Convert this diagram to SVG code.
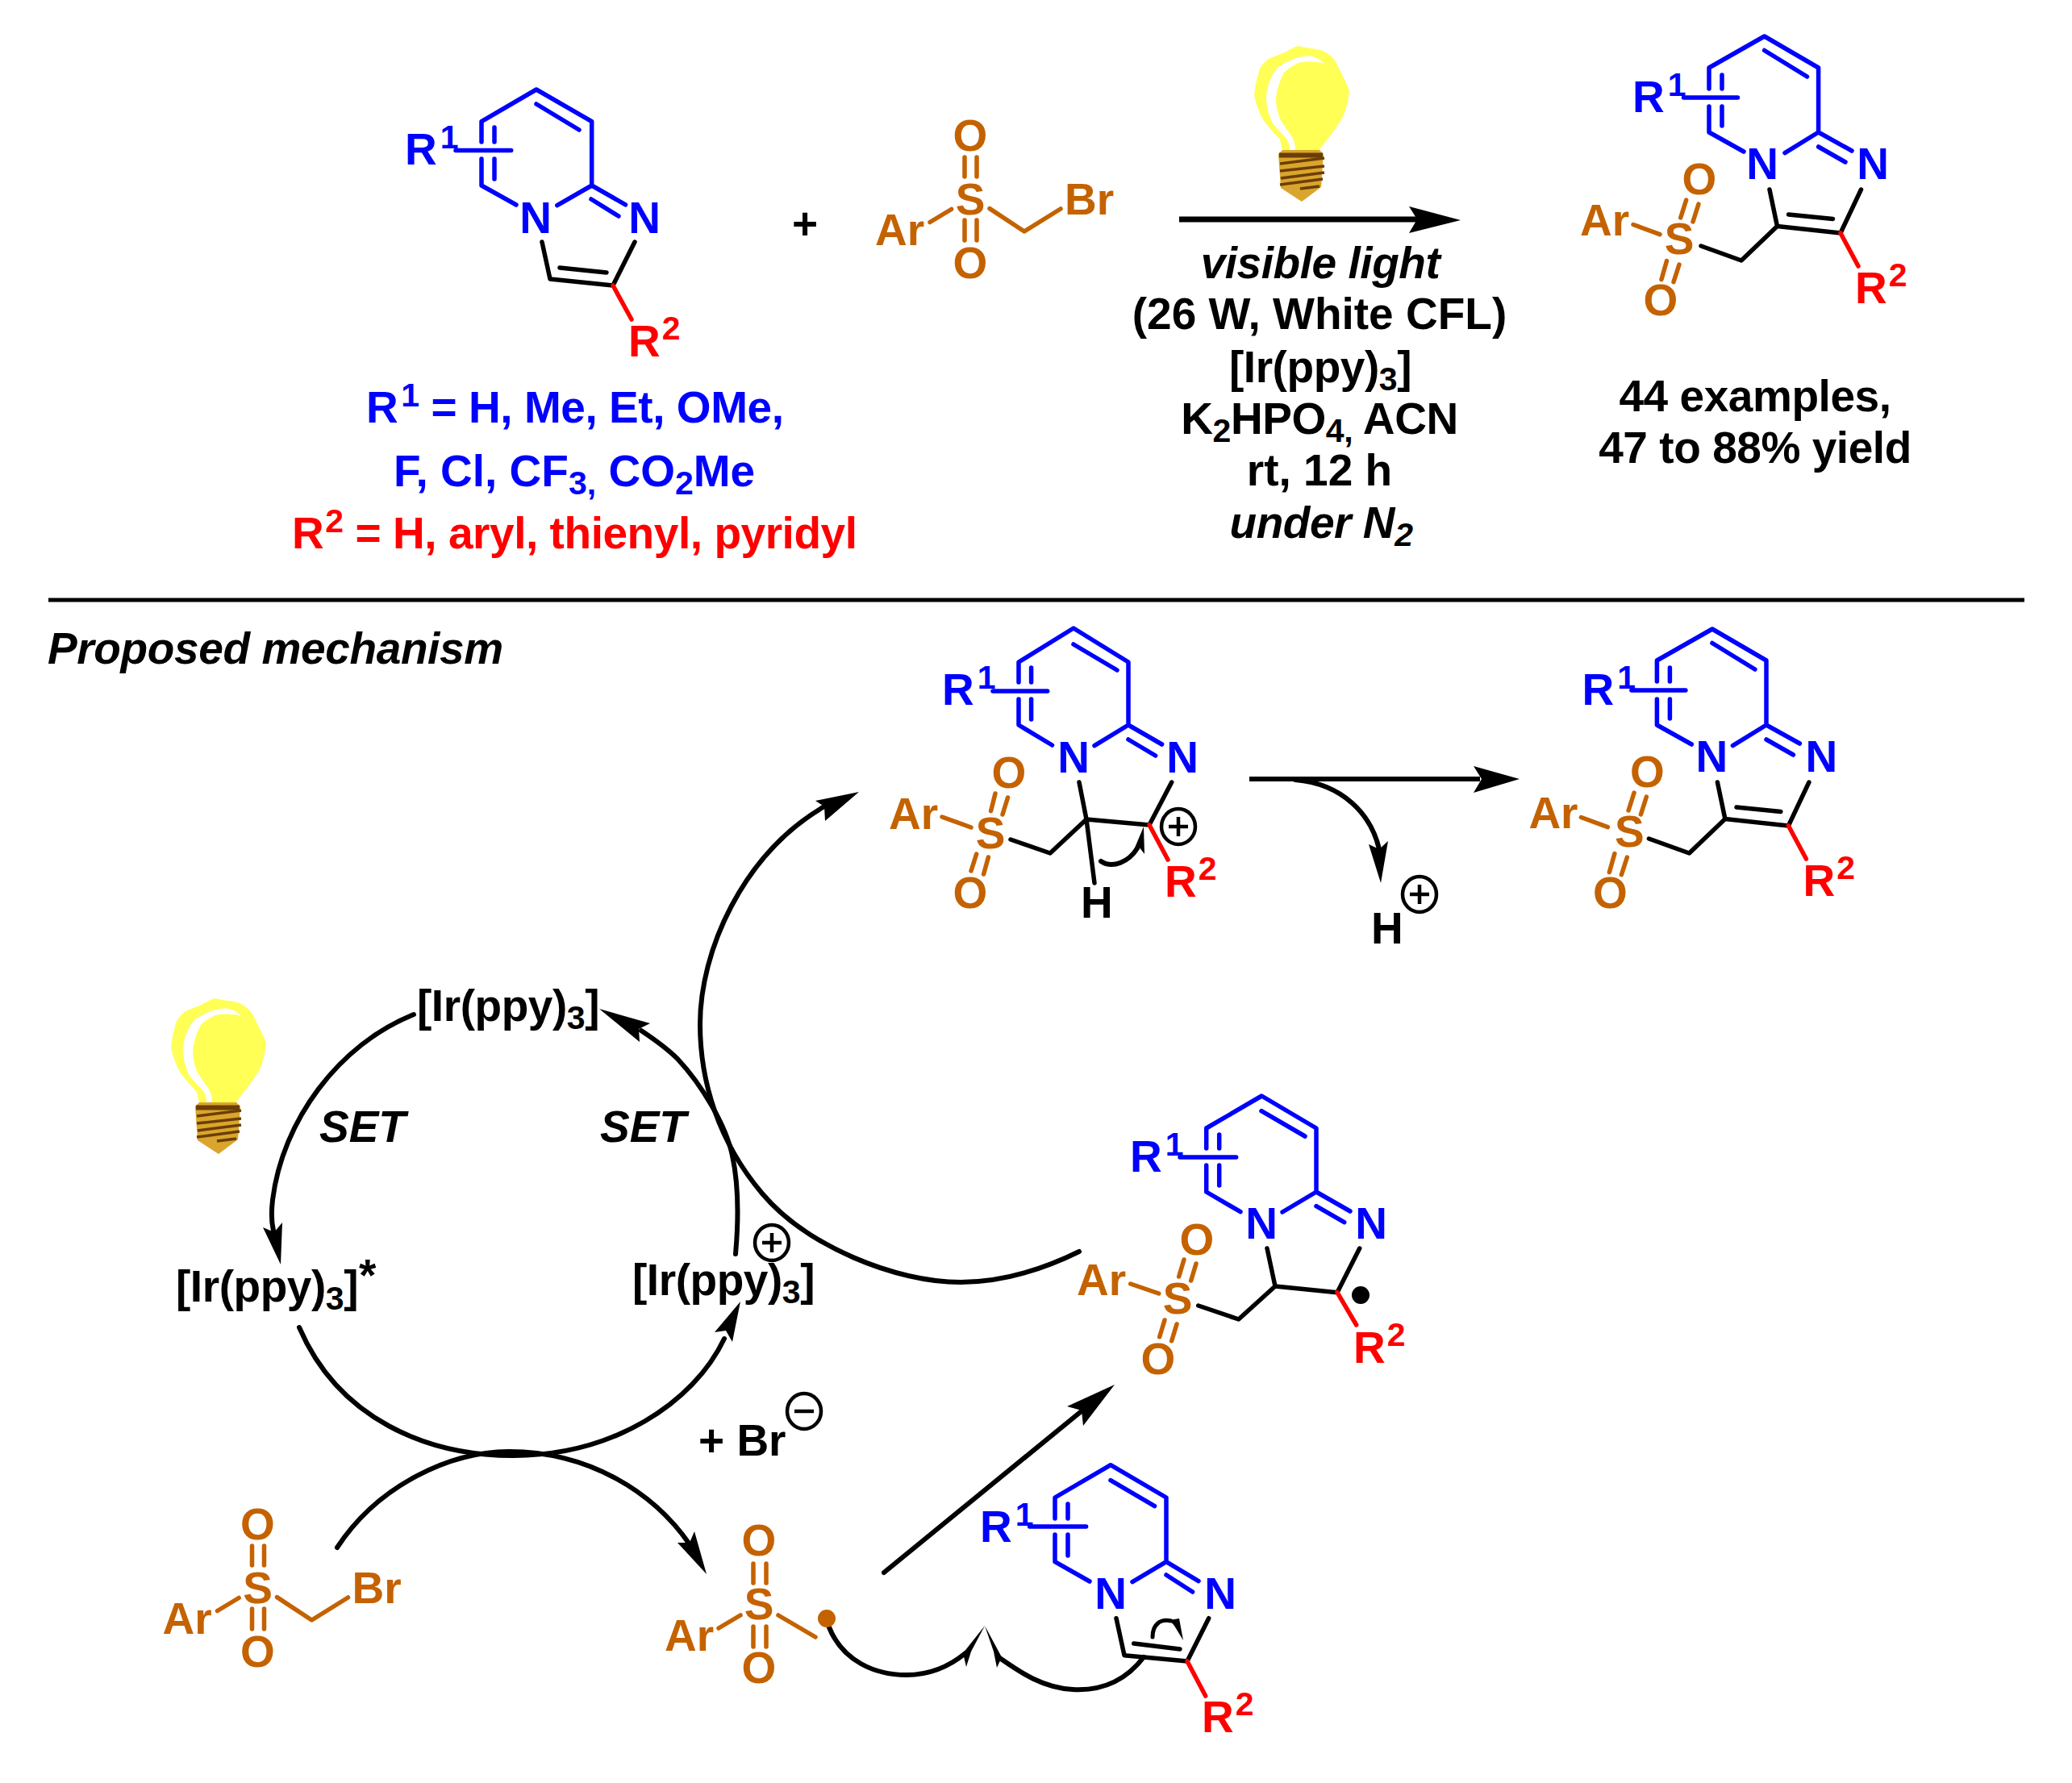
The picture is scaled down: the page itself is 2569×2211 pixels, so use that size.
<svg xmlns="http://www.w3.org/2000/svg" width="2569" height="2211" viewBox="0 0 2569 2211">
<style>
.b{fill:none;stroke-width:5.5;stroke-linecap:round;stroke-linejoin:round}
.bl{stroke:#0000FF}.rd{stroke:#FF0000}.bk{stroke:#000}.br{stroke:#C46200}
.c{fill:none;stroke:#000;stroke-width:6;stroke-linecap:round}
.cb{fill:none;stroke:#000;stroke-width:4.5}
text{font-family:"Liberation Sans",Arial,sans-serif;font-weight:700;font-size:55px}
.fb{fill:#0000FF}.fr{fill:#FF0000}.fo{fill:#C46200}.fk{fill:#000}
.i{font-style:italic}.m{text-anchor:middle}
.s{font-size:41px}
.n{letter-spacing:-.45px}
.ah{fill:#000}
</style>
<defs>
<g id="bulb">
<path fill="#FFFF55" d="M1610,57C1620,60 1632,60 1640,63C1648,67 1652,71 1655,75C1662,88 1668,100 1673,112C1672,122 1670,132 1667,140C1664,148 1658,156 1653,163C1648,170 1644,175 1640,180L1636,186H1590L1587,173C1580,165 1573,158 1567,150C1561,140 1557,128 1555,118C1556,106 1559,95 1562,85C1565,80 1569,76 1573,73C1580,70 1587,67 1593,65C1600,61 1605,58 1610,57Z"/>
<path fill="#FFF" d="M1642,79C1637,74 1633,71 1627,70C1620,69 1614,70 1607,72C1598,75 1591,79 1585,83C1576,92 1571,106 1570,120C1570,132 1573,143 1578,153C1583,160 1590,166 1595,172C1598,177 1599,181 1599,186H1606C1606,180 1605,175 1602,170C1597,162 1591,155 1587,147C1584,139 1582,131 1582,123C1583,111 1587,99 1592,90C1597,85 1603,81 1610,78C1620,76 1632,76 1642,79Z"/>
<path fill="#DAA52C" d="M1590,186H1636L1641,191L1638,232L1614,250L1588,233L1585,191Z"/>
<path fill="none" stroke="#6B3E05" stroke-width="6" d="M1586,192.500H1640"/>
<path fill="none" stroke="#6B3E05" stroke-width="3.500" d="M1587,203L1642,196M1587,212L1642,206M1588,221L1642,214M1587,229L1640,222M1612,234L1636,231"/>
</g>
</defs>
<rect width="2569" height="2211" fill="#FFF"/>

<g id="connectors">
<path class="cb" style="stroke-width:7" d="M1462,272H1758"/><polygon class="ah" points="1811,273 1747,256 1757,272 1747,289"/>
<path class="b bk" style="stroke-width:5;stroke-linecap:butt" d="M60,744H2510"/>
<path class="cb" style="stroke-width:6" d="M1549,966H1835"/><polygon class="ah" points="1884,966 1827,950 1837,966 1827,983"/>
<path class="c" d="M1606,967C1665,972 1700,1010 1710,1053"/><polygon class="ah" points="1712,1095 1697,1047 1710,1053 1721,1043"/>
<path class="c" d="M513,1258C420,1295 350,1390 338,1488C336,1505 337,1520 340,1530"/><polygon class="ah" points="348,1568 326,1522 340,1528 350,1516"/>
<path class="c" d="M912,1555C916,1510 916,1470 908,1433C900,1395 870,1345 840,1313C825,1298 810,1288 795,1278"/><polygon class="ah" points="743,1251 806,1269 792,1276 793,1292"/>
<path class="c" d="M1338,1552C1285,1578 1235,1590 1191,1590C1110,1590 1000,1545 945,1480C890,1415 868,1340 868,1270C868,1180 920,1060 1022,1000"/><polygon class="ah" points="1065,982 1011,993 1022,1000 1023,1018"/>
<path class="c" d="M371,1646C420,1760 530,1805 636,1805C760,1805 860,1740 898,1660"/><polygon class="ah" points="918,1614 886,1652 900,1650 908,1664"/>
<path class="c" d="M418,1919C470,1840 560,1800 631,1800C730,1800 810,1850 855,1915"/><polygon class="ah" points="876,1952 840,1913 855,1913 861,1899"/>
<path class="c" d="M1096,1950L1342,1749"/><polygon class="ah" points="1382,1717 1323,1744 1341,1749 1343,1768"/>
<path class="c" d="M1028,2018C1045,2060 1085,2077 1124,2077C1155,2077 1180,2064 1197,2050"/><polygon class="ah" points="1221,2016 1194,2050 1198,2067 1204,2048"/>
<path class="c" d="M1418,2055C1395,2085 1365,2097 1330,2095C1290,2093 1260,2070 1238,2055"/><polygon class="ah" points="1221,2016 1232,2048 1236,2068 1242,2055"/>
<path class="c" d="M1365,1068C1380,1078 1400,1068 1410,1052"/><polygon class="ah" points="1418,1025 1405,1056 1412,1050 1419,1059"/>
<path class="c" style="stroke-width:5" d="M1429,2030C1429,2015 1438,2007 1452,2010"/><polygon class="ah" points="1462,2007 1467,2034 1456,2016 1450,2009"/>
</g>

<g id="bulb-top"><use href="#bulb"/></g>
<g id="bulb-cycle"><use href="#bulb" transform="translate(-1343,1181)"/></g>

<g id="substrate">
<path class="b bl" d="M640,254L597,230V197M597,176V150.600L665,111L733.700,150.600V230L690.800,254.700M733.700,230L775.500,253.800M733,247L767,268M665,129L718,161M613,158V176M613,197V222M565,186.600H633.700"/>
<path class="b bk" d="M672,300L682,346L760,354L787,300M694,332L752,338"/>
<path class="b rd" d="M760,354L783,396"/>
<text class="fb" x="502" y="204">R<tspan class="s" dx="4" dy="-20">1</tspan></text>
<text class="fb m" x="664" y="289">N</text><text class="fb m" x="799" y="289">N</text>
<text class="fr" x="779" y="442">R<tspan class="s" dx="2" dy="-21">2</tspan></text>
</g>
<g id="scope-text">
<text class="fb n" x="454" y="524">R<tspan class="s" dx="4" dy="-20">1</tspan><tspan dy="20"> = H, Me, Et, OMe,</tspan></text>
<text class="fb" x="488" y="603">F, Cl, CF<tspan class="s" dy="10">3,</tspan><tspan dy="-10"> CO</tspan><tspan class="s" dy="10">2</tspan><tspan dy="-10">Me</tspan></text>
<text class="fr n" x="362" y="680">R<tspan class="s" dx="2" dy="-20">2</tspan><tspan dy="20"> = H, aryl, thienyl, pyridyl</tspan></text>
</g>
<g id="plus"><text class="fk m" x="998" y="296">+</text></g>

<g id="reagent">
<path class="b br" d="M1153,275.500L1179.600,259.500M1196,195V219M1211,195V219M1196,273V298M1211,273V298M1227,258.600L1270,287L1315,259"/>
<text class="fo m" x="1203" y="187">O</text><text class="fo m" x="1203" y="266">S</text><text class="fo m" x="1203" y="345">O</text>
<text class="fo" x="1085" y="304">Ar</text><text class="fo" x="1320" y="266">Br</text>
</g>

<g id="conditions">
<text class="fk i m n" x="1637" y="345">visible light</text>
<text class="fk m" x="1636" y="408">(26 W, White CFL)</text>
<text class="fk m n" x="1637" y="474">[Ir(ppy)<tspan class="s" dy="10">3</tspan><tspan dy="-10">]</tspan></text>
<text class="fk m n" x="1636" y="538">K<tspan class="s" dy="10">2</tspan><tspan dy="-10">HPO</tspan><tspan class="s" dy="10">4,</tspan><tspan dy="-10"> ACN</tspan></text>
<text class="fk m" x="1636" y="602">rt, 12 h</text>
<text class="fk i m n" x="1638" y="667">under N<tspan class="s" dy="10">2</tspan></text>
</g>

<g id="product-top">
<path class="b bl" d="M2162,188L2119,164V132M2119,110V84L2187.600,45L2254.600,84V164L2213,189.600M2254.600,164L2296,187M2254.600,182L2288,201M2187.600,62.500L2240.500,95M2135,93V110M2135,132V156M2087.500,121H2154.500"/>
<path class="b bk" d="M2194,235L2203.500,280.600L2282,289L2307.500,235M2217.600,266L2272.500,271.500M2203.500,280.600L2159,323L2109,305"/>
<path class="b rd" d="M2282,289L2304,330"/>
<path class="b br" d="M2025,278.500L2058,290.600M2090.700,248L2083.700,270M2106,253L2099,275M2066.500,323.600L2060,346.600M2082,328L2075,349.600"/>
<text class="fb" x="2024" y="139">R<tspan class="s" dx="4" dy="-20">1</tspan></text>
<text class="fb m" x="2185" y="222">N</text><text class="fb m" x="2322" y="222">N</text>
<text class="fr" x="2300" y="376">R<tspan class="s" dx="2" dy="-21">2</tspan></text>
<text class="fo" x="1959" y="292">Ar</text><text class="fo m" x="2082" y="315">S</text>
<text class="fo m" x="2107" y="241">O</text><text class="fo m" x="2059" y="391">O</text>
</g>
<g id="yield-text">
<text class="fk m n" x="2176" y="510">44 examples,</text>
<text class="fk m n" x="2176" y="574">47 to 88% yield</text>
</g>

<g id="mechanism-label"><text class="fk i" style="letter-spacing:-.38px" x="59" y="823">Proposed mechanism</text></g>

<g id="cation-intermediate">
<path class="b bl" d="M1304.500,924L1263,899V867M1263,846V821L1331,779L1399,821V899L1357,924.700M1399,899L1440.600,923M1399,917L1432.600,937M1331,799L1385,831M1278.600,828V846M1278.600,867V892M1231,857H1298.700"/>
<path class="b bk" d="M1338,970L1347,1016L1425,1023L1452.700,970M1347,1016L1302,1058L1253,1041M1347,1016L1357,1095"/>
<path class="b rd" d="M1425,1023L1448,1066"/>
<path class="b br" d="M1168,1013L1204,1026M1234,984L1228.600,1005.700M1249.500,989L1243,1010M1210.700,1059L1204,1080M1225.400,1063L1219.600,1084"/>
<text class="fb" x="1168" y="874">R<tspan class="s" dx="4" dy="-20">1</tspan></text>
<text class="fb m" x="1331" y="958">N</text><text class="fb m" x="1466" y="958">N</text>
<text class="fo" x="1102" y="1028">Ar</text><text class="fo m" x="1228" y="1052">S</text>
<text class="fo m" x="1251" y="977">O</text><text class="fo m" x="1203" y="1126">O</text>
<text class="fk" x="1340" y="1138">H</text>
<text class="fr" x="1444" y="1112">R<tspan class="s" dx="2" dy="-21">2</tspan></text>
<ellipse class="cb" cx="1461" cy="1025" rx="21" ry="22"/><path class="cb" d="M1449,1025H1473M1461,1013V1037"/>
</g>

<g id="proton"><text class="fk" x="1700" y="1170">H</text>
<ellipse class="cb" cx="1760" cy="1109" rx="21" ry="22"/><path class="cb" d="M1748,1109H1772M1760,1097V1121"/></g>

<g id="product-mech" transform="translate(-64.6,735)">
<path class="b bl" d="M2162,188L2119,164V132M2119,110V84L2187.600,45L2254.600,84V164L2213,189.600M2254.600,164L2296,187M2254.600,182L2288,201M2187.600,62.500L2240.500,95M2135,93V110M2135,132V156M2087.500,121H2154.500"/>
<path class="b bk" d="M2194,235L2203.500,280.600L2282,289L2307.500,235M2217.600,266L2272.500,271.500M2203.500,280.600L2159,323L2109,305"/>
<path class="b rd" d="M2282,289L2304,330"/>
<path class="b br" d="M2025,278.500L2058,290.600M2090.700,248L2083.700,270M2106,253L2099,275M2066.500,323.600L2060,346.600M2082,328L2075,349.600"/>
<text class="fb" x="2026" y="139">R<tspan class="s" dx="4" dy="-20">1</tspan></text>
<text class="fb m" x="2187" y="222">N</text><text class="fb m" x="2323" y="222">N</text>
<text class="fr" x="2300" y="376">R<tspan class="s" dx="2" dy="-21">2</tspan></text>
<text class="fo" x="1960" y="292">Ar</text><text class="fo m" x="2085" y="315">S</text>
<text class="fo m" x="2107" y="241">O</text><text class="fo m" x="2061" y="391">O</text>
</g>

<g id="ir-ground"><text class="fk n" x="517" y="1266">[Ir(ppy)<tspan class="s" dy="10">3</tspan><tspan dy="-10">]</tspan></text></g>
<g id="ir-excited"><text class="fk n" x="218" y="1614">[Ir(ppy)<tspan class="s" dy="10">3</tspan><tspan dy="-10">]</tspan></text><text class="fk" x="445" y="1600">*</text></g>
<g id="ir-oxidized"><text class="fk n" x="784" y="1606">[Ir(ppy)<tspan class="s" dy="10">3</tspan><tspan dy="-10">]</tspan></text>
<ellipse class="cb" cx="957" cy="1541" rx="21" ry="22"/><path class="cb" d="M945,1541H969M957,1529V1553"/></g>
<g id="set-left"><text class="fk i" x="396" y="1416">SET</text></g>
<g id="set-right"><text class="fk i" x="744" y="1416">SET</text></g>
<g id="bromide"><text class="fk" x="866" y="1805">+ Br</text>
<ellipse class="cb" cx="997" cy="1750" rx="21" ry="22"/><path class="cb" d="M985,1750H1009"/></g>

<g id="radical-intermediate">
<path class="b bl" d="M1538,1502.700L1495.700,1478V1445M1495.700,1424V1399L1564.300,1359L1632,1399V1478L1590,1503M1632,1478L1674,1502M1632,1495.700L1666.700,1515.700M1564,1377.700L1618,1409M1511.700,1407V1424M1511.700,1445V1470M1463,1435H1532.700"/>
<path class="b bk" d="M1571,1548L1581,1595L1658,1602.700L1685.700,1548M1581,1595L1535.700,1636L1485.700,1619"/>
<path class="b rd" d="M1658,1602.700L1681.700,1643"/>
<path class="b br" d="M1401.700,1592L1436.700,1604M1468,1562L1461.700,1583M1483,1567L1476.700,1588M1444,1637L1437.700,1657.700M1459,1642L1452.700,1662.700"/>
<text class="fb" x="1401" y="1453">R<tspan class="s" dx="4" dy="-20">1</tspan></text>
<text class="fb m" x="1564" y="1536">N</text><text class="fb m" x="1700" y="1536">N</text>
<text class="fr" x="1678" y="1690">R<tspan class="s" dx="2" dy="-21">2</tspan></text>
<text class="fo" x="1335" y="1606">Ar</text><text class="fo m" x="1460" y="1629">S</text>
<text class="fo m" x="1484" y="1556">O</text><text class="fo m" x="1436" y="1704">O</text>
<circle cx="1687" cy="1606" r="11" fill="#000"/>
</g>

<g id="reagent-cycle" transform="translate(-883.5,1722)">
<path class="b br" d="M1153,275.500L1179.600,259.500M1196,195V219M1211,195V219M1196,273V298M1211,273V298M1227,258.600L1270,287L1315,259"/>
<text class="fo m" x="1203" y="187">O</text><text class="fo m" x="1203" y="266">S</text><text class="fo m" x="1203" y="345">O</text>
<text class="fo" x="1085" y="304">Ar</text><text class="fo" x="1320" y="266">Br</text>
</g>

<g id="sulfonyl-radical">
<path class="b br" d="M891,2019L918,2003M934,1939V1963M950,1939V1963M934,2017V2042M950,2017V2042M965,2003L1011,2030"/>
<text class="fo m" x="941" y="1929">O</text><text class="fo m" x="941" y="2008">S</text><text class="fo m" x="941" y="2087">O</text>
<text class="fo" x="824" y="2047">Ar</text>
<circle cx="1025" cy="2007" r="11" fill="#C46200"/>
</g>

<g id="substrate-cycle">
<path class="b bl" d="M1351,1961L1308,1936.700V1903M1308,1883V1857L1377,1816.700L1446,1857V1936.700L1404,1961.700M1446,1936.700L1486,1960.700M1446,1953L1478.600,1974M1377,1835.700L1431.600,1867.700M1324,1865V1883M1324,1903V1929M1276.600,1893H1346.600"/>
<path class="b bk" d="M1384,2006.700L1394,2052.700L1472,2060L1498.700,2006.700M1405.700,2038L1463,2045"/>
<path class="b rd" d="M1472,2060L1494.700,2103"/>
<text class="fb" x="1215" y="1912">R<tspan class="s" dx="4" dy="-20">1</tspan></text>
<text class="fb m" x="1377" y="1995">N</text><text class="fb m" x="1513" y="1995">N</text>
<text class="fr" x="1490" y="2148">R<tspan class="s" dx="2" dy="-21">2</tspan></text>
</g>
</svg>
